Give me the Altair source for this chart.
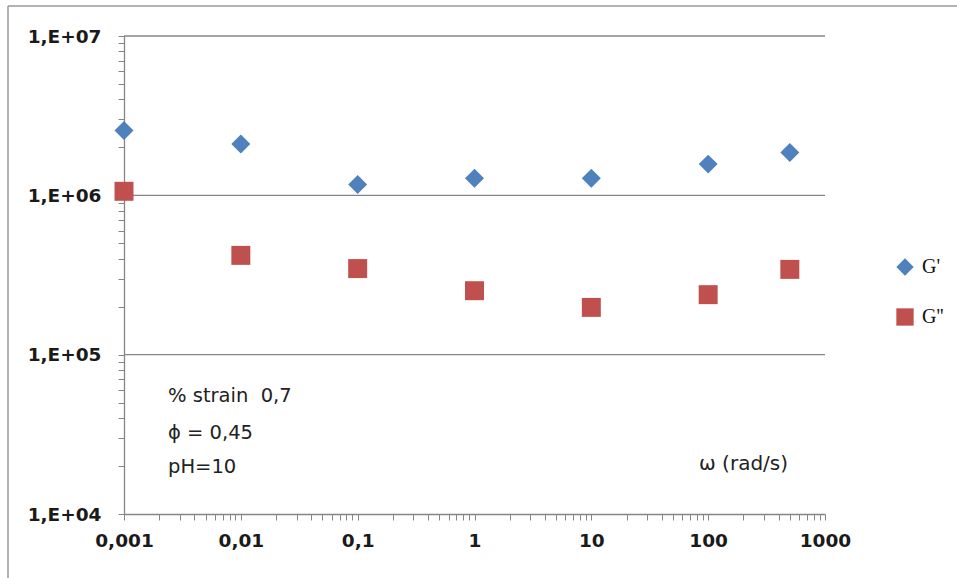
import altair as alt
import pandas as pd

omega = [0.001, 0.01, 0.1, 1, 10, 100, 500]
g_prime = [2.55e6, 2.1e6, 1.17e6, 1.28e6, 1.28e6, 1.57e6, 1.86e6]
g_double = [1.06e6, 4.2e5, 3.47e5, 2.52e5, 1.98e5, 2.38e5, 3.43e5]
series_names = ["G'", "G''"]
series_colors = ["#4F81BD", "#C0504D"]
series_shapes = ["diamond", "square"]

x_decades = [0.001, 0.01, 0.1, 1, 10, 100, 1000]
y_decades = [1e4, 1e5, 1e6, 1e7]
y_minor = [m * d for d in [1e4, 1e5, 1e6] for m in range(1, 10)] + [1e7]
x_minor = [m * d for d in [0.001, 0.01, 0.1, 1, 10, 100] for m in range(1, 10)] + [1000]

annotations = ["% strain\u00a0 0,7", "\u03d5 = 0,45", "pH=10"]
annotation_y = [396, 433, 467]

W, H = 701, 478
L, T = 124, 36

df = pd.DataFrame({
    "omega": omega * 2,
    "value": g_prime + g_double,
    "series": [series_names[0]] * len(omega) + [series_names[1]] * len(omega),
})

xscale = alt.Scale(type="log", domain=[0.001, 1000], nice=False)
yscale = alt.Scale(type="log", domain=[1e4, 1e7], nice=False)

x_label_expr = ("datum.value == 0.001 ? '0,001' : datum.value == 0.01 ? '0,01' : "
                "datum.value == 0.1 ? '0,1' : datum.value == 1 ? '1' : datum.value == 10 ? '10' : "
                "datum.value == 100 ? '100' : datum.value == 1000 ? '1000' : ''")
y_label_expr = ("datum.value == 10000 ? '1,E+04' : datum.value == 100000 ? '1,E+05' : "
                "datum.value == 1000000 ? '1,E+06' : datum.value == 10000000 ? '1,E+07' : ''")

axis_style = dict(
    title=None, grid=False,
    labelFont="DejaVu Sans", labelFontWeight="bold", labelFontSize=18.5, labelColor="#1a1a1a",
    tickSize=6, tickColor="#868686", domainColor="#868686",
    labelOverlap=False, labelFlush=False, domainWidth=1.3,
)
x_axis = alt.Axis(values=x_minor, labelExpr=x_label_expr, labelPadding=11, **axis_style)
y_axis = alt.Axis(values=y_minor, labelExpr=y_label_expr, labelPadding=17, **axis_style)

grid = alt.Chart(pd.DataFrame({"y": y_decades[1:]})).mark_rule(
    color="#868686", strokeWidth=1.3
).encode(y=alt.Y("y:Q", scale=yscale, axis=y_axis))

points = alt.Chart(df).mark_point(filled=True, opacity=1, size=360).encode(
    x=alt.X("omega:Q", scale=xscale, axis=x_axis),
    y=alt.Y("value:Q", scale=yscale, axis=y_axis),
    color=alt.Color("series:N", scale=alt.Scale(domain=series_names, range=series_colors),
                    legend=alt.Legend(title=None, orient="none", legendX=771, legendY=221,
                                      labelFont="Liberation Serif", labelFontSize=20,
                                      labelColor="#111", symbolSize=300, rowPadding=30,
                                      symbolOpacity=1, labelOffset=7)),
    shape=alt.Shape("series:N", scale=alt.Scale(domain=series_names, range=series_shapes),
                    legend=None),
)

layers = [grid, points]
for txt, yy in zip(annotations, annotation_y):
    layers.append(
        alt.Chart(pd.DataFrame({"t": [txt]})).mark_text(
            align="left", baseline="middle", font="DejaVu Sans", fontSize=19.5, color="#222"
        ).encode(text="t:N", x=alt.value(168 - L), y=alt.value(yy - T))
    )

layers.append(
    alt.Chart(pd.DataFrame({"t": ["\u03c9 (rad/s)"]})).mark_text(
        align="left", baseline="middle", font="DejaVu Sans", fontSize=20, color="#222"
    ).encode(text="t:N", x=alt.value(699 - L), y=alt.value(464 - T))
)

layers.append(
    alt.Chart(pd.DataFrame({"a": [0]})).mark_rule(color="#9a9a9a", strokeWidth=1.5).encode(
        x=alt.value(8 - L), x2=alt.value(957 - L), y=alt.value(6 - T), y2=alt.value(6 - T)
    )
)
layers.append(
    alt.Chart(pd.DataFrame({"a": [0]})).mark_rule(color="#9a9a9a", strokeWidth=1.5).encode(
        x=alt.value(8 - L), x2=alt.value(8 - L), y=alt.value(6 - T), y2=alt.value(578 - T)
    )
)

chart = alt.layer(*layers).properties(
    width=W, height=H,
    autosize=alt.AutoSizeParams(type="none"),
    padding={"left": L, "top": T, "right": 957 - L - W, "bottom": 578 - T - H},
).configure(background="white").configure_view(stroke=None)

chart.save("out.html", embed_options={"renderer": "svg", "actions": False})
